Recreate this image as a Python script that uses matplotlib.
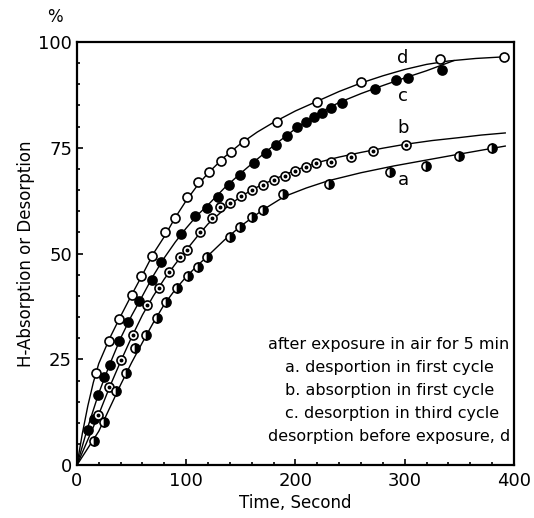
import matplotlib.pyplot as plt
from matplotlib.ticker import MultipleLocator

# --- measured points (read from the figure) ---
# d: desorption before exposure (open circles)
t_d = [17.4, 29.6, 38.7, 50, 59, 68.4, 81, 90, 101, 110.5, 121, 131.5, 141, 152.5,
       183, 220, 260, 332, 391]
v_d = [21.7, 29.3, 34.6, 40.3, 44.6, 49.5, 55, 58.5, 63.4, 67, 69.3, 71.9, 74.1, 76.4,
       81, 85.8, 90.5, 96, 96.5]

# c: desorption in third cycle (filled circles)
t_c = [10.4, 15.6, 19.5, 24.7, 30.2, 38.6, 47, 57, 68.4, 77, 95, 108, 119.3, 129.3,
       139.4, 149.2, 162, 173, 182.2, 192, 201, 209.6, 217.2, 224, 232.5, 242.3,
       272.8, 292, 303.3, 333.8]
v_c = [8.3, 11.0, 16.5, 20.9, 23.6, 29.3, 33.9, 38.8, 43.7, 48.1, 54.6, 58.9, 60.7, 63.4,
       66.2, 68.6, 71.3, 73.8, 75.7, 77.8, 79.8, 81.2, 82.3, 83.3, 84.3, 85.5,
       89, 91, 91.6, 93.4]

# b: absorption in first cycle (open circles with a dot)
t_b = [19.5, 29.6, 40, 51.5, 63.8, 75.3, 84.5, 94.3, 101, 112.6, 123.3, 131, 140,
       149.8, 159.9, 170.5, 180.3, 190.4, 199.5, 209.6, 218.8, 233, 250.5, 270.6, 301]
v_b = [11.8, 18.5, 24.8, 30.7, 37.8, 41.8, 45.7, 49.2, 50.8, 55, 58.3, 60.9, 61.9,
       63.6, 65, 66.2, 67.4, 68.4, 69.4, 70.5, 71.5, 71.7, 72.9, 74.2, 75.6]

# a: desorption in first cycle (half filled circles)
t_a = [15.6, 24.7, 35.7, 44.6, 53, 63.2, 73, 81.5, 91.3, 101.9, 111, 118.7, 140,
       149.2, 160, 170.5, 188.8, 230.5, 286.5, 319.5, 349.5, 379.6]
v_a = [5.7, 10.2, 17.6, 21.7, 27.6, 30.7, 34.7, 38.6, 41.8, 44.8, 46.9, 49.2, 54,
       56.3, 58.6, 60.3, 64, 66.4, 69.3, 70.6, 73.1, 74.9]

# --- drawn curves ---
curve_t_d = [0, 5, 10, 15, 20, 30, 40, 50, 60, 70, 80, 90, 100, 110, 120, 135, 150,
             165, 180, 200, 220, 240, 260, 280, 300, 320, 340, 365, 392]
curve_v_d = [0, 7.5, 14, 19.5, 24, 30, 35.2, 40.2, 45, 50, 54, 58.5, 62.5, 66, 69,
             72.8, 76, 78.7, 81, 83.7, 86, 88.3, 90.3, 92, 93.5, 94.7, 95.5, 96.1, 96.5]
curve_t_c = [0, 5, 10, 15, 20, 30, 40, 50, 60, 70, 80, 90, 100, 110, 120, 135, 150,
             165, 180, 200, 220, 240, 260, 280, 300, 320, 345]
curve_v_c = [0, 4.5, 9, 13, 17, 23.8, 30, 35.3, 40, 44.8, 49, 52.7, 56, 59, 61.5,
             65.5, 69, 72.3, 75.5, 79.5, 83, 85.7, 87.8, 89.7, 91.5, 93.2, 95.6]
curve_t_b = [0, 10, 20, 30, 40, 50, 60, 70, 80, 90, 100, 110, 120, 135, 150, 165,
             180, 200, 220, 240, 260, 280, 300, 325, 350, 370, 392]
curve_v_b = [0, 6, 12, 18.5, 24.5, 30.2, 35.5, 40, 44, 47.5, 50.8, 54, 57, 60.5,
             63.5, 65.7, 67.5, 69.7, 71.5, 72.8, 73.9, 74.9, 75.8, 76.7, 77.4, 78, 78.5]
curve_t_a = [0, 10, 20, 30, 40, 50, 60, 70, 80, 90, 100, 110, 120, 135, 150, 170,
             190, 210, 230, 260, 290, 320, 350, 372, 392]
curve_v_a = [0, 4, 8, 13.5, 19, 24.2, 29, 33.7, 38, 41.5, 44.5, 47.1, 49.5, 53.2,
             56.5, 60.3, 63.5, 65.5, 67.2, 69.1, 70.7, 72.1, 73.5, 74.5, 75.4]

legend_lines = ["after exposure in air for 5 min",
                "a. desportion in first cycle",
                "b. absorption in first cycle",
                "c. desorption in third cycle",
                "desorption before exposure, d"]

fig = plt.figure(figsize=(5.34, 5.18), dpi=100)
ax = fig.add_axes([0.144, 0.102, 0.8185, 0.817])

lw = 1.0
ms = 6.5
for ct, cv in [(curve_t_d, curve_v_d), (curve_t_c, curve_v_c),
               (curve_t_b, curve_v_b), (curve_t_a, curve_v_a)]:
    ax.plot(ct, cv, '-', color='black', lw=lw, zorder=2)

ax.plot(t_d, v_d, 'o', ms=ms, mfc='white', mec='black', mew=1.2, zorder=3)
ax.plot(t_c, v_c, 'o', ms=ms, mfc='black', mec='black', mew=1.2, zorder=3)
ax.plot(t_b, v_b, 'o', ms=ms, mfc='white', mec='black', mew=1.2, zorder=3)
ax.plot(t_b, v_b, 'o', ms=1.8, mfc='black', mec='black', zorder=4)
ax.plot(t_a, v_a, 'o', ms=ms, fillstyle='right', mfc='black', mfcalt='white',
        mec='black', mew=1.2, zorder=3)

# curve letters
for lab, yv in [('d', 96.1), ('c', 87.3), ('b', 79.6), ('a', 67.3)]:
    ax.text(298.5, yv, lab, fontsize=13, ha='center', va='center')

fs = 11.5
ax.text(285.5, 28.4, legend_lines[0], fontsize=fs, ha='center', va='center')
for i, line in enumerate(legend_lines[1:4]):
    ax.text(190.5, 23.0 - 5.45 * i, line, fontsize=fs, ha='left', va='center')
ax.text(285.5, 6.7, legend_lines[4], fontsize=fs, ha='center', va='center')

ax.set_xlim(0, 400)
ax.set_ylim(0, 100)
ax.xaxis.set_major_locator(MultipleLocator(100))
ax.xaxis.set_minor_locator(MultipleLocator(20))
ax.yaxis.set_major_locator(MultipleLocator(25))
ax.yaxis.set_minor_locator(MultipleLocator(5))
ax.tick_params(which='both', direction='in', labelsize=13, width=1.2)
ax.tick_params(which='major', length=4)
ax.tick_params(which='minor', length=2.5)
ax.tick_params(axis='x', pad=5)
for s in ax.spines.values():
    s.set_linewidth(1.6)

ax.set_xlabel('Time, Second', fontsize=12, labelpad=3)
ax.set_ylabel('H-Absorption or Desorption', fontsize=12)
ax.yaxis.set_label_coords(-0.095, 0.5)
ax.text(-0.05, 1.058, '%', transform=ax.transAxes, fontsize=12, ha='center', va='center')

fig.savefig('out.png', dpi=100)
